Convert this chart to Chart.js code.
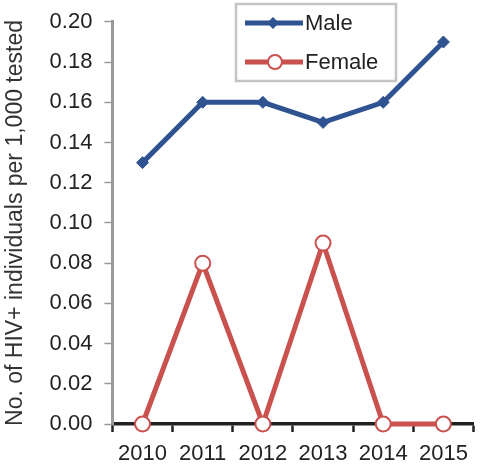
<!DOCTYPE html>
<html>
<head>
<meta charset="utf-8">
<script src="https://cdn.jsdelivr.net/npm/chart.js@4"></script>
<style>
  html, body { margin: 0; padding: 0; background: #fff; }
  #wrap { width: 483px; height: 466px; }
</style>
</head>
<body>
<div id="wrap"><canvas id="c" width="483" height="466"></canvas></div>
<script>
var years = ["2010", "2011", "2012", "2013", "2014", "2015"];
var male = [0.13, 0.16, 0.16, 0.15, 0.16, 0.19];
var female = [0, 0.08, 0, 0.09, 0, 0];
var yTicks = [0, 0.02, 0.04, 0.06, 0.08, 0.10, 0.12, 0.14, 0.16, 0.18, 0.20];

var blue = '#2f5391';
var red = '#c9514e';
var fontFam = '"Liberation Sans", Arial, sans-serif';

// legend box drawn by hand, marker sits on the line like the original
var boxLegend = {
  id: 'boxLegend',
  afterDraw: function (chart) {
    var c = chart.ctx;
    var x0 = 236, y0 = 4, w = 160, h = 77;
    c.save();
    c.fillStyle = '#fff';
    c.fillRect(x0, y0, w, h);
    c.strokeStyle = '#c4c4c4';
    c.lineWidth = 2.5;
    c.strokeRect(x0, y0, w, h);
    var rows = [
      { label: 'Male', color: blue, y: 23, diamond: true },
      { label: 'Female', color: red, y: 62, diamond: false }
    ];
    rows.forEach(function (r) {
      c.strokeStyle = r.color;
      c.lineWidth = 5;
      c.beginPath();
      c.moveTo(245, r.y);
      c.lineTo(303, r.y);
      c.stroke();
      if (r.diamond) {
        c.fillStyle = r.color;
        c.beginPath();
        c.moveTo(273, r.y - 6);
        c.lineTo(279, r.y);
        c.lineTo(273, r.y + 6);
        c.lineTo(267, r.y);
        c.closePath();
        c.fill();
      } else {
        c.fillStyle = '#fff';
        c.lineWidth = 2;
        c.beginPath();
        c.arc(275, r.y, 7, 0, Math.PI * 2);
        c.fill();
        c.stroke();
      }
      c.fillStyle = '#222';
      c.font = '22px ' + fontFam;
      c.textBaseline = 'middle';
      c.textAlign = 'left';
      c.fillText(r.label, 305, r.y + 1);
    });
    c.restore();
  }
};

var ctx = document.getElementById('c');
var chart = new Chart(ctx, {
  type: 'line',
  data: {
    labels: years,
    datasets: [
      {
        label: 'Male',
        data: male,
        borderColor: blue,
        backgroundColor: blue,
        borderWidth: 5,
        pointStyle: 'rectRot',
        pointRadius: 6,
        pointBorderWidth: 1,
        pointBackgroundColor: blue,
        tension: 0,
        clip: false
      },
      {
        label: 'Female',
        data: female,
        borderColor: red,
        backgroundColor: '#fff',
        borderWidth: 5,
        pointStyle: 'circle',
        pointRadius: 7.5,
        pointBorderWidth: 2,
        pointBackgroundColor: '#fff',
        pointBorderColor: red,
        tension: 0,
        clip: false
      }
    ]
  },
  options: {
    responsive: false,
    animation: false,
    layout: { padding: { top: 4, right: 0, bottom: 0, left: 2 } },
    plugins: {
      legend: { display: false },
      tooltip: { enabled: false }
    },
    scales: {
      x: {
        offset: true,
        afterFit: function (axis) { axis.height = 42; },
        grid: {
          offset: true,
          drawOnChartArea: false,
          drawTicks: true,
          tickLength: 8,
          tickWidth: 2.5,
          tickColor: '#222'
        },
        border: { color: '#222', width: 3.5 },
        ticks: {
          color: '#222',
          padding: 9,
          maxRotation: 0,
          font: { family: fontFam, size: 22 }
        }
      },
      y: {
        min: 0,
        max: 0.2,
        afterBuildTicks: function (axis) {
          axis.ticks = yTicks.map(function (v) { return { value: v }; });
        },
        grid: {
          drawOnChartArea: false,
          drawTicks: true,
          tickLength: 8,
          tickWidth: 1.5,
          tickColor: '#999'
        },
        border: { color: '#9a9a9a', width: 3 },
        ticks: {
          color: '#222',
          padding: 12,
          callback: function (v) { return Number(v).toFixed(2); },
          font: { family: fontFam, size: 22, lineHeight: 0.9 }
        },
        title: {
          display: true,
          text: 'No. of HIV+ individuals per 1,000 tested',
          color: '#333',
          padding: { top: 0, bottom: 8 },
          font: { family: fontFam, size: 23 }
        }
      }
    }
  },
  plugins: [boxLegend]
});
</script>
</body>
</html>
